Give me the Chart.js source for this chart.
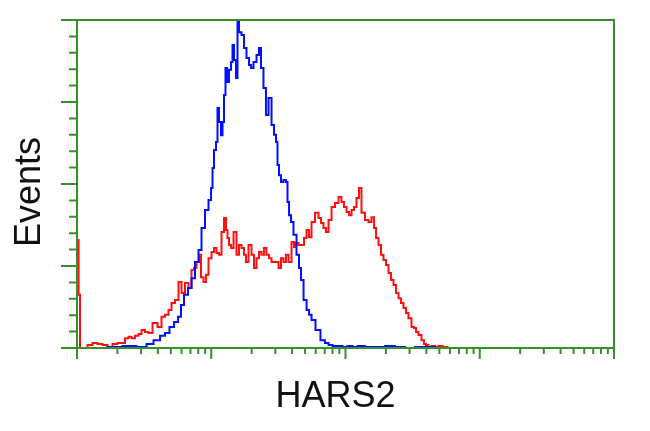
<!DOCTYPE html>
<html>
<head>
<meta charset="utf-8">
<script src="https://cdn.jsdelivr.net/npm/chart.js@4"></script>
<style>
  html, body { margin: 0; padding: 0; background: #fff; }
  #wrap { width: 650px; height: 431px; }
</style>
</head>
<body>
<div id="wrap"><canvas id="histChart" width="650" height="431"></canvas></div>
<script>
// x positions are in decades (log10 of channel), y is events (% of max)
const blueLog = [0, 0.171, 0.283, 0.395, 0.492, 0.544, 0.596, 0.641, 0.670, 0.708, 0.738, 0.767, 0.782, 0.812,
  0.842, 0.864, 0.894, 0.916, 0.939, 0.968, 0.991, 1.006, 1.013, 1.028, 1.043, 1.050, 1.065, 1.080, 1.088,
  1.102, 1.110, 1.125, 1.140, 1.155, 1.162, 1.177, 1.192, 1.199, 1.214, 1.237, 1.251, 1.274, 1.289, 1.304,
  1.326, 1.348, 1.363, 1.378, 1.400, 1.415, 1.438, 1.460, 1.475, 1.490, 1.497, 1.512, 1.527, 1.549, 1.564,
  1.572, 1.587, 1.601, 1.624, 1.646, 1.661, 1.676, 1.699, 1.721, 1.736, 1.758, 1.795, 1.832, 1.862, 1.885,
  1.922, 1.959, 1.996, 2.034, 2.071, 2.108, 2.182, 2.257, 2.332, 2.406, 2.480, 2.555, 2.629, 2.704];
const blueEvents = [0, 0, 0.3, 0.6, 0.3, 1.2, 2.4, 3.7, 4.6, 6.4, 7.9, 9.5, 13.1, 16.2,
  18.3, 21.3, 26.2, 29.9, 36.6, 42.1, 45.1, 48.8, 54.9, 60.4, 62.8, 73.2, 68.9, 64.9, 68.9,
  77.1, 85.4, 81.1, 84.8, 87.2, 92.4, 87.8, 82.3, 99.4, 96.3, 95.4, 91.5, 88.4, 86.3, 85.4,
  87.2, 89.3, 91.5, 85.4, 79.3, 71.0, 76.2, 68.0, 65.0, 62.8, 55.8, 52.7, 50.6, 51.2, 50.6,
  44.5, 40.5, 38.4, 34.5, 28.4, 24.4, 20.7, 14.6, 11.6, 10.1, 8.5, 5.5, 2.4, 1.5, 0.9,
  0.6, 0.6, 0.3, 0.6, 0.3, 0.6, 0.3, 0.3, 0.6, 0.3, 0, 0.3, 0.3, 0];

const redLog = [0, 0.008, 0.015, 0.030, 0.060, 0.097, 0.134, 0.171, 0.209, 0.246, 0.283, 0.320, 0.343, 0.372, 0.395,
  0.417, 0.447, 0.469, 0.492, 0.521, 0.544, 0.581, 0.618, 0.641, 0.670, 0.693, 0.715, 0.745, 0.767, 0.790,
  0.819, 0.842, 0.864, 0.879, 0.901, 0.916, 0.931, 0.953, 0.968, 0.991, 1.013, 1.028, 1.050, 1.065, 1.088,
  1.102, 1.117, 1.125, 1.140, 1.155, 1.177, 1.199, 1.214, 1.237, 1.251, 1.266, 1.289, 1.311, 1.326, 1.348,
  1.363, 1.385, 1.400, 1.423, 1.438, 1.460, 1.490, 1.512, 1.527, 1.549, 1.564, 1.587, 1.609, 1.624, 1.639,
  1.661, 1.683, 1.699, 1.721, 1.736, 1.758, 1.788, 1.810, 1.825, 1.847, 1.862, 1.885, 1.907, 1.937, 1.959,
  1.981, 1.996, 2.019, 2.034, 2.056, 2.071, 2.093, 2.108, 2.130, 2.160, 2.182, 2.205, 2.220, 2.235, 2.257,
  2.272, 2.294, 2.309, 2.332, 2.346, 2.369, 2.384, 2.406, 2.421, 2.443, 2.458, 2.480, 2.503, 2.518, 2.533,
  2.555, 2.577, 2.592, 2.607, 2.629, 2.652, 2.682, 2.704, 2.741, 2.778];
const redEvents = [32.9, 32.9, 16.2, 0, 0, 0.9, 1.5, 1.2, 0.9, 0.3, 1.2, 1.5, 1.5, 3.0, 3.4,
  3.0, 3.7, 4.3, 5.5, 4.9, 4.6, 7.6, 6.4, 9.5, 10.1, 11.6, 13.7, 14.6, 20.1, 16.8,
  19.8, 18.3, 23.8, 24.4, 26.2, 28.4, 21.6, 20.1, 22.3, 27.4, 29.3, 30.5, 29.0, 28.4, 35.4,
  39.6, 36.0, 33.5, 31.4, 30.5, 35.4, 28.4, 31.4, 30.5, 28.4, 26.2, 31.4, 28.4, 24.4, 27.4,
  29.3, 28.4, 30.5, 28.4, 27.4, 26.2, 26.2, 24.4, 27.4, 26.2, 28.4, 26.2, 32.3, 30.8, 32.0,
  31.4, 31.4, 33.5, 36.0, 33.8, 38.4, 41.2, 39.6, 38.1, 36.6, 35.4, 39.0, 43.0, 44.2, 46.0,
  44.5, 43.0, 41.5, 40.5, 42.1, 43.0, 45.7, 48.8, 41.2, 39.0, 38.4, 39.9, 36.6, 33.5, 31.4,
  28.4, 26.8, 25.3, 22.9, 20.7, 19.2, 16.8, 15.2, 13.7, 12.2, 10.7, 9.1, 6.4, 6.1, 4.9,
  4.0, 2.4, 1.2, 0.9, 0.3, 0.6, 0.3, 0.6, 0.3, 0];

const decades = [0, 1, 2, 3, 4];
const yMajorTicks = [0, 25, 50, 75, 100];
const xTitle = 'HARS2';
const yTitle = 'Events';

const frameColor = '#359127';

function toPoints(xs, ys) {
  return xs.map((x, i) => ({ x: x, y: ys[i] }));
}

// frame, log ticks and axis titles
const framePlugin = {
  id: 'frame',
  afterDatasetsDraw(chart) {
    const ctx = chart.ctx;
    const area = chart.chartArea;
    const xs = chart.scales.x;
    const ys = chart.scales.y;
    ctx.save();
    ctx.strokeStyle = frameColor;
    ctx.lineWidth = 2;
    ctx.strokeRect(area.left, area.top, area.right - area.left, area.bottom - area.top);

    // x ticks: decades long, 2..9 short
    ctx.lineWidth = 2;
    ctx.beginPath();
    decades.forEach(d => {
      const px = xs.getPixelForValue(d);
      ctx.moveTo(px, area.bottom);
      ctx.lineTo(px, area.bottom + 11);
      if (d < decades[decades.length - 1]) {
        for (let k = 2; k <= 9; k++) {
          const mx = xs.getPixelForValue(d + Math.log10(k));
          ctx.moveTo(mx, area.bottom);
          ctx.lineTo(mx, area.bottom + 6);
        }
      }
    });
    // y ticks: major every 25, minor every 5
    for (let v = 0; v <= 100; v += 5) {
      const py = ys.getPixelForValue(v);
      const len = yMajorTicks.includes(v) ? 16 : 8;
      ctx.moveTo(area.left, py);
      ctx.lineTo(area.left - len, py);
    }
    ctx.stroke();

    ctx.fillStyle = '#111';
    ctx.font = '36px "Liberation Sans", Arial, sans-serif';
    ctx.textAlign = 'center';
    ctx.textBaseline = 'alphabetic';
    ctx.fillText(xTitle, (area.left + area.right) / 2 - 10, 407);
    ctx.translate(40, (area.top + area.bottom) / 2 + 8);
    ctx.rotate(-Math.PI / 2);
    ctx.fillText(yTitle, 0, 0);
    ctx.restore();
  }
};

new Chart(document.getElementById('histChart').getContext('2d'), {
  type: 'line',
  data: {
    datasets: [
      {
        label: 'control',
        data: toPoints(blueLog, blueEvents),
        borderColor: '#0010ff',
        borderWidth: 2,
        pointRadius: 0,
        stepped: 'middle',
        fill: false
      },
      {
        label: 'HARS2',
        data: toPoints(redLog, redEvents),
        borderColor: '#ff1010',
        borderWidth: 2,
        pointRadius: 0,
        stepped: 'middle',
        fill: false
      }
    ]
  },
  options: {
    responsive: false,
    animation: false,
    layout: { padding: { left: 77, top: 20, right: 36, bottom: 83 } },
    plugins: { legend: { display: false }, tooltip: { enabled: false } },
    scales: {
      x: { type: 'linear', min: 0, max: 4, display: false },
      y: { min: 0, max: 100, display: false }
    }
  },
  plugins: [framePlugin]
});
</script>
</body>
</html>
